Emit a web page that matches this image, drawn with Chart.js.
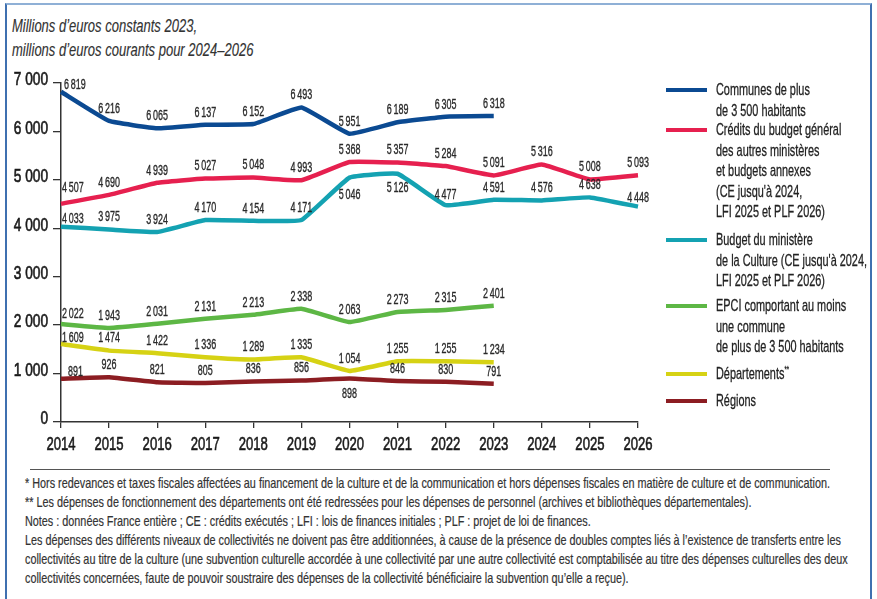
<!DOCTYPE html>
<html><head><meta charset="utf-8">
<script src="https://cdn.jsdelivr.net/npm/chart.js@4.4.1/dist/chart.umd.min.js"></script>
<style>
html,body{margin:0;padding:0;background:#fff;}
body{width:877px;height:599px;position:relative;overflow:hidden;font-family:"Liberation Sans",Arial,sans-serif;color:#222;}
#frame{position:absolute;left:5px;top:3px;width:867px;height:640px;border:2px solid #3f70b0;border-top-color:#8fb0d6;box-sizing:border-box;}
#title{position:absolute;left:12px;top:14px;font-style:italic;font-size:19px;line-height:24px;color:#333;-webkit-text-stroke:0.15px #333;}
#wrap{position:absolute;left:0;top:0;width:877px;height:460px;}
#legend{position:absolute;left:666px;top:0;}
.sw{position:absolute;left:0;width:41px;height:4px;}
.lt{position:absolute;left:50px;font-size:17px;line-height:20.5px;color:#222;white-space:nowrap;-webkit-text-stroke:0.3px #222;}
.ln{display:block;white-space:nowrap;transform-origin:0 50%;width:max-content;}
#sep{position:absolute;left:30px;top:469px;width:800px;height:0;border-top:1.3px solid #555;}
#notes{position:absolute;left:25px;top:474px;font-size:14.5px;line-height:19px;color:#333;white-space:nowrap;-webkit-text-stroke:0.2px #333;}
</style></head>
<body>
<div id="frame"></div>
<div id="title"></div>
<div id="wrap"><canvas id="c" width="877" height="460"></canvas></div>
<div id="legend"></div>
<div id="sep"></div>
<div id="notes"></div>
<script>
// ---- DATA ----
const years = ["2014","2015","2016","2017","2018","2019","2020","2021","2022","2023","2024","2025","2026"];
const communes = [6819,6216,6065,6137,6152,6493,5951,6189,6305,6318,null,null,null];
const creditsAutres = [4507,4690,4939,5027,5048,4993,5368,5357,5284,5091,5316,5008,5093];
const budgetCulture = [4033,3975,3924,4170,4154,4171,5046,5126,4477,4591,4576,4638,4448];
const epci = [2022,1943,2031,2131,2213,2338,2063,2273,2315,2401,null,null,null];
const departements = [1609,1474,1422,1336,1289,1335,1054,1255,1255,1234,null,null,null];
const regions = [891,926,821,805,836,856,898,846,830,791,null,null,null];
const yTicks = [0,1000,2000,3000,4000,5000,6000,7000];

const titleLines = ["Millions d’euros constants 2023,","millions d’euros courants pour 2024–2026"];
const seriesNames = [
  ["Communes de plus","de 3 500 habitants"],
  ["Crédits du budget général","des autres ministères","et budgets annexes","(CE jusqu'à 2024,","LFI 2025 et PLF 2026)"],
  ["Budget du ministère","de la Culture (CE jusqu'à 2024,","LFI 2025 et PLF 2026)"],
  ["EPCI comportant au moins","une commune","de plus de 3 500 habitants"],
  ["Départements<sup style='font-size:9px;vertical-align:7px;line-height:0'>**</sup>"],
  ["Régions"]
];
const notesLines = [
  "* Hors redevances et taxes fiscales affectées au financement de la culture et de la communication et hors dépenses fiscales en matière de culture et de communication.",
  "** Les dépenses de fonctionnement des départements ont été redressées pour les dépenses de personnel (archives et bibliothèques départementales).",
  "Notes : données France entière ; CE : crédits exécutés ; LFI : lois de finances initiales ; PLF : projet de loi de finances.",
  "Les dépenses des différents niveaux de collectivités ne doivent pas être additionnées, à cause de la présence de doubles comptes liés à l’existence de transferts entre les",
  "collectivités au titre de la culture (une subvention culturelle accordée à une collectivité par une autre collectivité est comptabilisée au titre des dépenses culturelles des deux",
  "collectivités concernées, faute de pouvoir soustraire des dépenses de la collectivité bénéficiaire la subvention qu’elle a reçue)."
];
const seriesData = [communes, creditsAutres, budgetCulture, epci, departements, regions];

// ---- STYLE ----
const colors = ["#0b4a92","#e6204f","#14a2b2","#5db745","#d6d214","#8c1d22"];
const legendTops = [90,130,240,306,374,401];
// label placement exceptions: [dx, dy, align]
const placement = {
  0:{0:[3,-7,"left"]},
  1:{0:[1,-16,"left"]},
  2:{0:[1,-8,"left"],6:[0,18,"center"],7:[0,14,"center"],8:[0,-10,"center"],12:[0,-8,"center"]},
  3:{0:[1,-10,"left"]},
  4:{0:[1,-6,"left"]},
  5:{0:[7,-7,"left"],6:[0,16,"center"]}
};
const fmt = v => String(v).replace(/\B(?=(\d{3})+(?!\d))/g, "\u2009");
const FONT = "'Liberation Sans',Arial,sans-serif";

function addLines(parent, lines){
  return lines.map(t=>{const d=document.createElement('span');d.className='ln';d.innerHTML=t;parent.appendChild(d);return d;});
}
function condense(els, refEl, target){
  const s = target / refEl.getBoundingClientRect().width;
  els.forEach(e=>e.style.transform='scaleX('+s+')');
}
// title
const tEls = addLines(document.getElementById('title'), titleLines);
condense(tEls, tEls[0], 185);
// notes
const nEls = addLines(document.getElementById('notes'), notesLines);
condense(nEls, nEls[0], 805);
// legend
const lg = document.getElementById('legend');
let allLeg=[], refLeg=null;
seriesNames.forEach((lines,i)=>{
  const sw=document.createElement('div');sw.className='sw';
  sw.style.top=(legendTops[i]-2)+'px';sw.style.background=colors[i];lg.appendChild(sw);
  const t=document.createElement('div');t.className='lt';
  t.style.top=(legendTops[i]-10)+'px';lg.appendChild(t);
  const els=addLines(t,lines); allLeg=allLeg.concat(els);
  if(i===2) refLeg=els[1];
});
condense(allLeg, refLeg, 151);

function cText(ctx, text, x, y, align, sx, sw){
  ctx.save(); ctx.translate(x,y); ctx.scale(sx,1); ctx.textAlign=align;
  ctx.fillText(text,0,0);
  if(sw){ctx.lineWidth=sw; ctx.strokeText(text,0,0);}
  ctx.restore();
}

const labelPlugin = {
  id:'vlabels',
  afterDatasetsDraw(chart){
    const ctx=chart.ctx;
    ctx.save();
    ctx.font="14px "+FONT;
    ctx.fillStyle="#2a2a2a"; ctx.strokeStyle="#2a2a2a";
    ctx.textBaseline="middle";
    chart.data.datasets.forEach((ds,di)=>{
      const meta=chart.getDatasetMeta(di);
      meta.data.forEach((pt,j)=>{
        const v=ds.data[j]; if(v==null) return;
        let p=(placement[di]&&placement[di][j])||[0,-12,"center"];
        cText(ctx, fmt(v), pt.x+p[0], pt.y+p[1], p[2], 0.64, 0.35);
      });
    });
    // axis tick labels (condensed)
    ctx.font="19px "+FONT;
    ctx.fillStyle="#1a1a1a"; ctx.strokeStyle="#1a1a1a";
    const ys=chart.scales.y, xs=chart.scales.x;
    yTicks.forEach(v=>cText(ctx, fmt(v).replace("\u2009"," "), 48, ys.getPixelForValue(v)-3, "right", 0.72, 0.7));
    years.forEach((y,i)=>cText(ctx, y, xs.getPixelForValue(i), 445, "center", 0.69, 0.6));
    ctx.restore();
  }
};

new Chart(document.getElementById('c'),{
  type:'line',
  data:{labels:years,datasets:seriesData.map((d,i)=>({
    data:d,borderColor:colors[i],backgroundColor:colors[i],borderWidth:4.5,
    pointRadius:0,tension:0.1,borderJoinStyle:'round',borderCapStyle:'butt',spanGaps:false
  }))},
  options:{
    responsive:false,animation:false,
    layout:{padding:{left:0,right:239,top:83,bottom:0}},
    plugins:{legend:{display:false},tooltip:{enabled:false}},
    scales:{
      x:{offset:false,
        grid:{drawOnChartArea:false,drawTicks:true,tickLength:6,color:'#333',lineWidth:1.3},
        border:{display:true,color:'#333',width:1.5},
        ticks:{display:false,autoSkip:false},
        afterFit(s){s.height=38;}
      },
      y:{min:0,max:7000,
        afterBuildTicks(s){s.ticks=yTicks.map(v=>({value:v}));},
        grid:{drawOnChartArea:false,drawTicks:true,tickLength:8,color:'#333',lineWidth:1.3},
        border:{display:true,color:'#333',width:1.5},
        ticks:{display:false},
        afterFit(s){s.width=61;}
      }
    }
  },
  plugins:[labelPlugin]
});
</script>
</body></html>
